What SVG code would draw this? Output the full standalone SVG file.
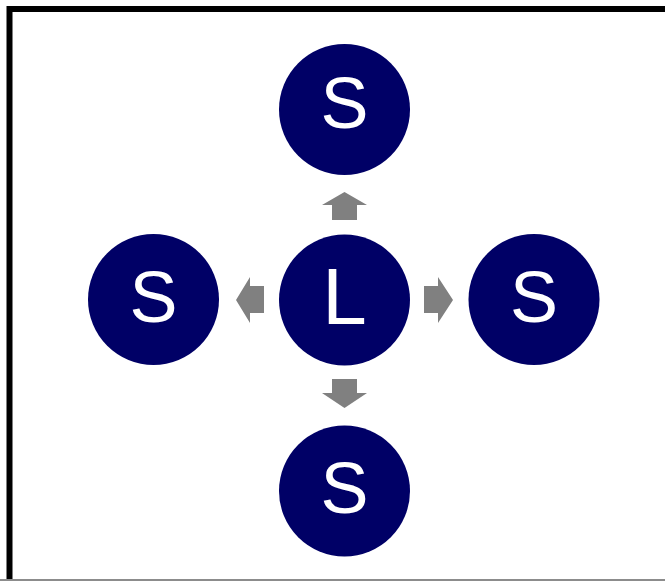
<svg xmlns="http://www.w3.org/2000/svg" width="665" height="581" viewBox="0 0 665 581">
<style>
.node circle{fill:#000066}
.node text{fill:#ffffff;font-family:"Liberation Sans",Arial,sans-serif;text-anchor:middle}
.s{font-size:72px}
.l{font-size:80px}
.arrow{fill:#808080}
</style>
<rect x="0" y="0" width="665" height="581" fill="#ffffff"/>
<path d="M9.5,581 V9 H670" fill="none" stroke="#000000" stroke-width="6"/>
<rect x="0" y="579" width="665" height="2" fill="#8c8c8c"/>
<g id="connectors">
<polygon class="arrow" points="344.5,192 367,205 357,205 357,220 332,220 332,205 322,205"/>
<polygon class="arrow" points="344.5,408 367,393 357,393 357,379 332,379 332,393 322,393"/>
<polygon class="arrow" points="236,300 250,277 250,286 264,286 264,313 250,313 250,323"/>
<polygon class="arrow" points="453,300 438,277 438,286 424,286 424,313 438,313 438,323"/>
</g>
<g id="node-center" class="node"><circle cx="344.5" cy="300" r="65.5"/><text class="l" x="344.5" y="324">L</text></g>
<g id="node-top" class="node"><circle cx="344.5" cy="109.5" r="65.5"/><text class="s" x="344.5" y="128">S</text></g>
<g id="node-left" class="node"><circle cx="153.5" cy="299.5" r="65.5"/><text class="s" x="153.5" y="322">S</text></g>
<g id="node-right" class="node"><circle cx="534" cy="299.5" r="65.5"/><text class="s" x="534" y="322">S</text></g>
<g id="node-bottom" class="node"><circle cx="344.5" cy="491" r="65.5"/><text class="s" x="344.5" y="513">S</text></g>
</svg>
